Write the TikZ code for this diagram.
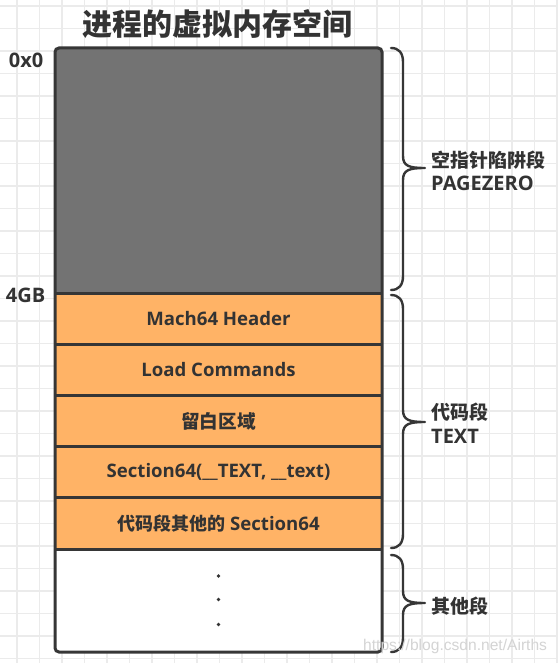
\documentclass[tikz,border=0pt]{standalone}
\usepackage{fontspec}
\setmainfont{Open Sans}
\newfontfamily\cjk{Noto Sans CJK SC}
\newfontfamily\wmfont{Liberation Sans}
\definecolor{gridc}{HTML}{EBEBEB}
\definecolor{framec}{HTML}{363636}
\definecolor{txtc}{HTML}{333333}
\definecolor{grayfill}{HTML}{737373}
\definecolor{orangefill}{HTML}{FFB366}
\newcommand\drawbrace[3]{%
  \draw[bracestyle] (391,#1) .. controls (399,#1) and (403,#1+5) .. (403,#1+14)
    -- (403,#3-12) .. controls (403,#3-2) and (409,#3) .. (425,#3)
    .. controls (409,#3) and (403,#3+2) .. (403,#3+12)
    -- (403,#2-14) .. controls (403,#2-5) and (399,#2) .. (391,#2);}
\newcommand\latinbig[1]{{\fontsize{20}{23.5}\selectfont #1}}
\begin{document}
\begin{tikzpicture}[x=1pt,y=-1pt,
  gridline/.style={draw=gridc, line width=1.4pt},
  seg/.style={rectangle, draw=none, minimum width=327pt, inner sep=0pt, outer sep=0pt,
    text=txtc, font=\fontsize{18.6}{20}\selectfont\bfseries},
  sepline/.style={draw=framec, line width=3pt},
  frame/.style={draw=framec, line width=3pt, rounded corners=4pt},
  bracestyle/.style={draw=framec, line width=2.4pt, line cap=round, line join=round},
  sidelabel/.style={anchor=west, align=left, text=txtc, inner sep=0pt,
    font=\fontsize{19}{23.5}\selectfont\bfseries},
  addr/.style={anchor=east, text=txtc, inner sep=0pt, font=\fontsize{20}{22}\selectfont\bfseries},
  dotmark/.style={circle, fill=txtc, inner sep=0pt, minimum size=3.6pt}]
\useasboundingbox (0,0) rectangle (557,663);
\fill[white] (0,0) rectangle (557,663);
\foreach \i in {0,...,24} \draw[gridline] ({17+22.5*\i},0) -- ({17+22.5*\i},663);
\foreach \k in {0,...,29} \draw[gridline] (0,{6+22.5*\k}) -- (557,{6+22.5*\k});
% title
\node[text=txtc, font=\fontsize{30}{32}\selectfont\bfseries\cjk] (title) at (217.5,24) {进程的虚拟内存空间};
% segments
\begin{scope}
\clip[rounded corners=4pt] (55,48) rectangle (382,652);
\node[seg, fill=grayfill, minimum height=245pt] (zero) at (218.5,170.5) {};
\node[seg, fill=orangefill, minimum height=51.2pt] (r1) at (218.5,318.6) {Mach64 Header};
\node[seg, fill=orangefill, minimum height=51.2pt] (r2) at (218.5,369.8) {Load Commands};
\node[seg, fill=orangefill, minimum height=51.2pt] (r3) at (218.5,421.0) {\cjk 留白区域};
\node[seg, fill=orangefill, minimum height=51.2pt] (r4) at (218.5,472.2) {Section64(\_\_TEXT, \_\_text)};
\node[seg, fill=orangefill, minimum height=51.2pt] (r5) at (218.5,523.4) {{\cjk\fontsize{18}{20}\selectfont 代码段其他的} Section64};
\node[seg, fill=white, minimum height=103pt] (other) at (218.5,600.5) {};
\end{scope}
\draw[sepline] (r1.north west) -- (r1.north east);
\draw[sepline] (r2.north west) -- (r2.north east);
\draw[sepline] (r3.north west) -- (r3.north east);
\draw[sepline] (r4.north west) -- (r4.north east);
\draw[sepline] (r5.north west) -- (r5.north east);
\draw[sepline] (other.north west) -- (other.north east);
\draw[frame] (zero.north west) rectangle (other.south east);
% dots
\node[dotmark] (d1) at ([yshift=-24pt]other.center) {};
\node[dotmark] (d2) at ([yshift=1pt]other.center) {};
\node[dotmark] (d3) at ([yshift=24.5pt]other.center) {};
% addresses
\node[addr] (a0) at (43.5,60) {0x0};
\node[addr] (a4) at (45.5,295) {4GB};
% braces
\drawbrace{48}{290}{168}
\drawbrace{295}{548}{422}
\drawbrace{555}{652}{603}
\node[sidelabel] (lzero) at (431,171) {{\cjk 空指针陷阱段}\\\latinbig{PAGEZERO}};
\node[sidelabel] (ltext) at (431,423) {{\cjk 代码段}\\\latinbig{TEXT}};
\node[sidelabel] (lother) at (431,606) {\cjk 其他段};
% watermark
\node[anchor=base west, inner sep=0pt, text=black!17, font=\fontsize{15.6}{17}\selectfont\wmfont] (wm) at (363,650) {https://blog.csdn.net/Airths};
\end{tikzpicture}
\end{document}
